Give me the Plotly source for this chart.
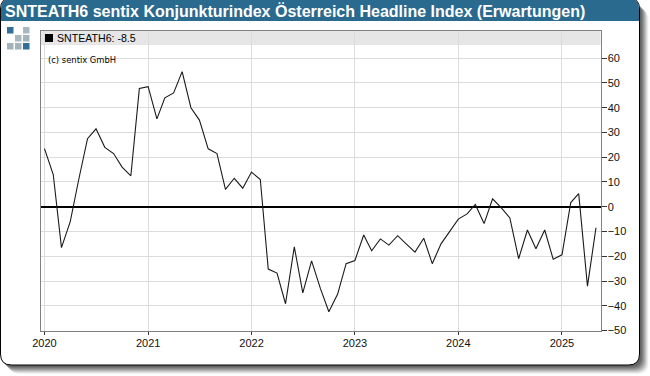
import plotly.graph_objects as go
import pandas as pd

W, H = 650, 376

months = pd.date_range("2020-01-01", "2025-05-01", freq="MS").strftime("%Y-%m-%d").tolist()
values = [
    23.5, 13, -16.5, -6, 11, 27.5, 31.5, 24, 21.5, 16, 12.5, 47.8,
    48.5, 35.5, 44, 46, 54.6, 40, 35, 23.4, 21.5, 7, 11.5, 7.5,
    14, 11, -25.2, -26.8, -39.2, -16.2, -34.8, -21.9, -33, -42.4, -35.3, -23,
    -21.7, -11.4, -17.8, -13, -15.5, -11.7, -15, -18.3, -12.7, -23, -15, -10,
    -5, -2.9, 0.9, -6.8, 3.2, -0.5, -4.5, -21, -9.4, -17, -9.4, -21.2,
    -19.4, 1.7, 5.3, -32.1, -8.5,
]
series_name = "SNTEATH6"
title_text = "SNTEATH6 sentix Konjunkturindex Österreich Headline Index (Erwartungen)"
legend_text = "SNTEATH6: -8.5"
credit_text = "(c) sentix GmbH"
year_ticks = ["2020-01-01", "2021-01-01", "2022-01-01", "2023-01-01", "2024-01-01", "2025-01-01"]
year_labels = ["2020", "2021", "2022", "2023", "2024", "2025"]
y_ticks = [-50, -40, -30, -20, -10, 0, 10, 20, 30, 40, 50, 60]

PX0, PX1, PY0, PY1 = 40.5, 600.5, 30.5, 330.5
FONT = "Liberation Sans, Arial, sans-serif"


def fx(p):
    return p / W


def fy(p):
    return 1 - p / H


def rrect(x0, y0, x1, y1, r):
    return (
        f"M{fx(x0 + r)},{fy(y0)} L{fx(x1 - r)},{fy(y0)} Q{fx(x1)},{fy(y0)} {fx(x1)},{fy(y0 + r)} "
        f"L{fx(x1)},{fy(y1 - r)} Q{fx(x1)},{fy(y1)} {fx(x1 - r)},{fy(y1)} "
        f"L{fx(x0 + r)},{fy(y1)} Q{fx(x0)},{fy(y1)} {fx(x0)},{fy(y1 - r)} "
        f"L{fx(x0)},{fy(y0 + r)} Q{fx(x0)},{fy(y0)} {fx(x0 + r)},{fy(y0)} Z"
    )


def header_path(x0, y0, x1, y1, r):
    return (
        f"M{fx(x0)},{fy(y1)} L{fx(x0)},{fy(y0 + r)} Q{fx(x0)},{fy(y0)} {fx(x0 + r)},{fy(y0)} "
        f"L{fx(x1 - r)},{fy(y0)} Q{fx(x1)},{fy(y0)} {fx(x1)},{fy(y0 + r)} L{fx(x1)},{fy(y1)} Z"
    )


def box(x0, y0, x1, y1, color, layer="below"):
    return dict(type="rect", xref="paper", yref="paper", x0=fx(x0), x1=fx(x1), y0=fy(y1), y1=fy(y0),
                fillcolor=color, line_width=0, layer=layer)


shapes = []
# soft shadow to the lower right of the card
for off, op in [(9, 0.05), (8, 0.07), (7, 0.09), (6, 0.11), (5, 0.12), (4, 0.13), (3, 0.14), (2, 0.14)]:
    shapes.append(dict(type="path", xref="paper", yref="paper", path=rrect(off, off, 639.5 + off, 365 + off, 11),
                       fillcolor=f"rgba(0,0,0,{op})", line_width=0, layer="below"))
# card
shapes.append(dict(type="path", xref="paper", yref="paper", path=rrect(0.5, -2, 639.5, 365, 11),
                   fillcolor="white", line=dict(color="black", width=1), layer="below"))
shapes.append(dict(type="path", xref="paper", yref="paper", path=header_path(1, -1.5, 639, 21, 10.5),
                   fillcolor="#2a6a8e", line_width=0, layer="below"))
# logo squares
for (lx, ly, col) in [
    (7, 27, "#2f6f98"), (23, 27, "#a9b8bf"),
    (15, 35, "#a9b8bf"), (23, 35, "#a4b3ba"),
    (7, 43, "#a4b3ba"), (15, 43, "#a4b3ba"), (23, 43, "#2f6f98"),
]:
    shapes.append(box(lx, ly, lx + 6.5, ly + 6.5, col))
# legend band
shapes.append(box(PX0, PY0, PX1, 45, "#e6e6e6"))
# legend key
shapes.append(box(45, 34, 53, 42, "black", layer="above"))

annotations = [
    dict(text=f"<b>{title_text}</b>", x=fx(3.3), y=fy(10.5), xref="paper", yref="paper", xanchor="left", yanchor="middle",
         showarrow=False, font=dict(family=FONT, size=16, color="white")),
    dict(text=legend_text, x=fx(55), y=fy(38), xref="paper", yref="paper", xanchor="left", yanchor="middle",
         showarrow=False, font=dict(family=FONT, size=10.6, color="black")),
    dict(text=credit_text, x=fx(46), y=fy(60.5), xref="paper", yref="paper", xanchor="left", yanchor="middle",
         showarrow=False, font=dict(family="DejaVu Sans, sans-serif", size=8.4, color="black")),
]

fig = go.Figure(go.Scatter(x=months, y=values, mode="lines", name=series_name,
                           line=dict(color="#1a1a1a", width=1.1), hoverinfo="x+y"))

fig.update_layout(
    width=W, height=H, autosize=False, showlegend=False,
    margin=dict(l=0, r=0, t=0, b=0, pad=0, autoexpand=False),
    paper_bgcolor="white", plot_bgcolor="rgba(0,0,0,0)",
    shapes=shapes, annotations=annotations,
    font=dict(family=FONT, size=11, color="#111111"),
    xaxis=dict(
        domain=[fx(PX0), fx(PX1)], type="date",
        range=["2019-12-18", "2025-05-17"],
        tickvals=year_ticks, ticktext=year_labels, ticks="outside", ticklen=3, tickwidth=1, tickcolor="#333333",
        ticklabelstandoff=-1,
        showgrid=True, gridcolor="#dcdcdc", gridwidth=1,
        showline=True, linecolor="#808080", linewidth=1, mirror=True, zeroline=False,
        tickfont=dict(family=FONT, size=11, color="#111111"),
    ),
    yaxis=dict(
        domain=[fy(PY1), fy(PY0)], range=[-50, 71.2], side="right",
        tickvals=y_ticks, ticks="outside", ticklen=5, tickwidth=1, tickcolor="#333333",
        ticklabelstandoff=-1,
        showgrid=True, gridcolor="#dcdcdc", gridwidth=1,
        showline=True, linecolor="#808080", linewidth=1, mirror=True,
        zeroline=True, zerolinecolor="black", zerolinewidth=2,
        tickfont=dict(family=FONT, size=11, color="#111111"),
    ),
)

fig.write_html("out.html", config={"displayModeBar": False},
               post_script="document.body.style.margin='0';document.documentElement.style.overflow='hidden';")
